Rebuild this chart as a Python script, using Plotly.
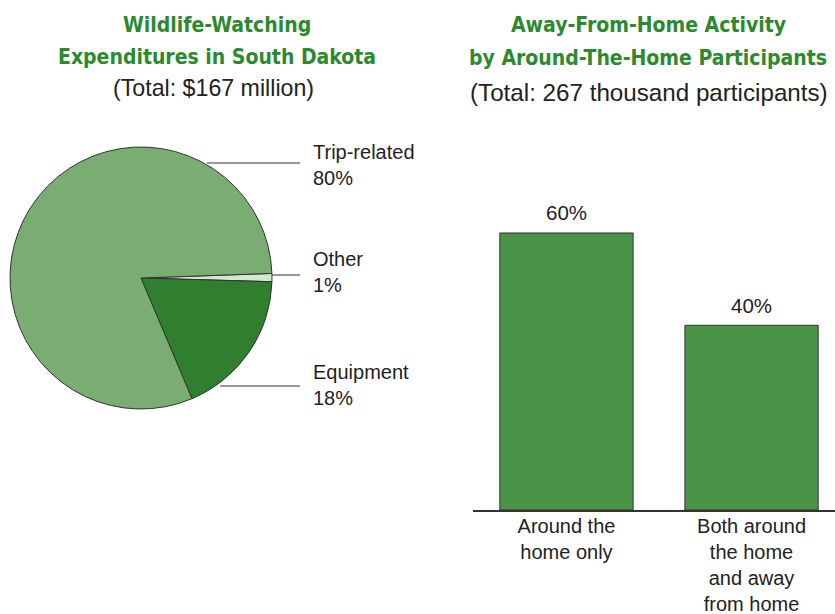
import plotly.graph_objects as go

W, H = 835, 614

# ---- data ----
pie_labels = ["Other", "Equipment", "Trip-related"]
pie_values = [1, 18, 80]
pie_colors = ["#d3e8cf", "#2f7f2f", "#79ad72"]

bar_categories = ["Around the<br>home only", "Both around<br>the home<br>and away<br>from home"]
bar_values = [60, 40]
bar_text = ["60%", "40%"]

left_title = ["Wildlife-Watching", "Expenditures in South Dakota"]
left_sub = "(Total: $167 million)"
right_title = ["Away-From-Home Activity", "by Around-The-Home Participants"]
right_sub = "(Total: 267 thousand participants)"

pie_label_text = {"Trip-related": "Trip-related<br>80%", "Other": "Other<br>1%", "Equipment": "Equipment<br>18%"}

TITLE_FONT = "Liberation Sans Narrow, Arial Narrow, DejaVu Sans Condensed, sans-serif"
BODY_FONT = "Liberation Sans, Arial, Helvetica, sans-serif"
GREEN = "#2b8a2e"
TXT = "#222222"


def px(x):
    return x / W


def py(y):
    return 1 - y / H


fig = go.Figure()

fig.add_trace(go.Pie(
    labels=pie_labels, values=pie_values, sort=False, direction="clockwise",
    rotation=88, marker=dict(colors=pie_colors, line=dict(color="#333333", width=1)),
    textinfo="none", hoverinfo="label+percent", showlegend=False,
    domain=dict(x=[px(10), px(272)], y=[py(409), py(147)]),
))

fig.add_trace(go.Bar(
    x=[0, 1], y=bar_values,
    marker=dict(color="#4a9447", line=dict(color="#333333", width=1)),
    cliponaxis=False, showlegend=False,
))

annotations = []
# bar value labels
for i, (v, t) in enumerate(zip(bar_values, bar_text)):
    annotations.append(dict(x=i, y=v, xref="x", yref="y", text=t, showarrow=False,
                            yshift=20, xanchor="center", yanchor="middle",
                            font=dict(family=BODY_FONT, size=20.5, color=TXT)))
# titles
for i, t in enumerate(left_title):
    annotations.append(dict(x=px(217), y=py(25 + 32 * i), xref="paper", yref="paper",
                            text="<b>" + t + "</b>", showarrow=False,
                            font=dict(family=TITLE_FONT, size=21, color=GREEN),
                            xanchor="center", yanchor="middle"))
annotations.append(dict(x=px(213), y=py(88), xref="paper", yref="paper", text=left_sub,
                        showarrow=False, font=dict(family=BODY_FONT, size=23.2, color=TXT),
                        xanchor="center", yanchor="middle"))
for i, t in enumerate(right_title):
    annotations.append(dict(x=px(648), y=py(25 + 33 * i), xref="paper", yref="paper",
                            text="<b>" + t + "</b>", showarrow=False,
                            font=dict(family=TITLE_FONT, size=21, color=GREEN),
                            xanchor="center", yanchor="middle"))
annotations.append(dict(x=px(649), y=py(92), xref="paper", yref="paper", text=right_sub,
                        showarrow=False, font=dict(family=BODY_FONT, size=24.2, color=TXT),
                        xanchor="center", yanchor="middle"))

# pie labels with leader lines
label_pos = {"Trip-related": (165, 163, 207), "Other": (272, 275, 272), "Equipment": (385, 386, 220)}
shapes = []
for name, (ty, ly, lx0) in label_pos.items():
    annotations.append(dict(x=px(311), y=py(ty), xref="paper", yref="paper",
                            text=pie_label_text[name], showarrow=False, align="left",
                            font=dict(family=BODY_FONT, size=20, color=TXT),
                            xanchor="left", yanchor="middle"))
    shapes.append(dict(type="line", xref="paper", yref="paper", x0=px(lx0), x1=px(300),
                       y0=py(ly), y1=py(ly), line=dict(color="#333333", width=1)))

fig.update_layout(
    width=W, height=H, margin=dict(l=0, r=0, t=0, b=0, autoexpand=False),
    paper_bgcolor="white", plot_bgcolor="white",
    bargap=0.28,
    xaxis=dict(domain=[px(473), 1.0], range=[-0.505, 1.451], tickmode="array",
               tickvals=[0, 1], ticktext=bar_categories, showline=True, automargin=False,
               linecolor="#333333", linewidth=1.5, showgrid=False, zeroline=False,
               ticks="", ticklabelstandoff=-3,
               tickfont=dict(family=BODY_FONT, size=20, color=TXT)),
    yaxis=dict(domain=[py(510), py(186.8)], range=[0, 70], visible=False, automargin=False),
    annotations=annotations, shapes=shapes,
)

fig.write_html("out.html", config={"displayModeBar": False},
               post_script="document.body.style.margin='0px';document.body.style.overflow='hidden';")
